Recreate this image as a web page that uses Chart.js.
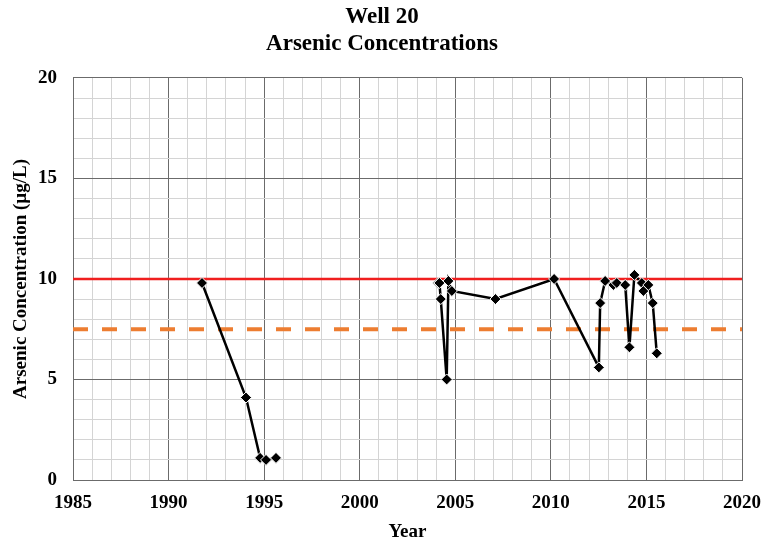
<!DOCTYPE html>
<html>
<head>
<meta charset="utf-8">
<script src="https://cdn.jsdelivr.net/npm/chart.js@4.4.1/dist/chart.umd.min.js"></script>
<style>
  html, body { margin: 0; padding: 0; background: #fff; }
  #wrap { width: 764px; height: 543px; }
</style>
</head>
<body>
<div id="wrap"><canvas id="myChart"></canvas></div>
<script>
// sample dates (decimal year) and arsenic values, null = gap in record
const sampleYears = [
  1991.75, 1994.05, 1994.79, 1995.1, 1995.62, 2000,
  2004.1, 2004.17, 2004.24, 2004.55, 2004.64, 2004.82, 2007.1, 2010.17,
  2012.51, 2012.58, 2012.84, 2013.27, 2013.45, 2013.89, 2014.11, 2014.37,
  2014.76, 2014.84, 2015.1, 2015.33, 2015.54
];
const arsenicValues = [
  9.8, 4.1, 1.1, 1.0, 1.1, null,
  9.8, 9.8, 9.0, 5.0, 9.9, 9.4, 9.0, 10.0,
  5.6, 8.8, 9.9, 9.7, 9.8, 9.7, 6.6, 10.2,
  9.8, 9.4, 9.7, 8.8, 6.3
];
const mclLimit = 10;
const actionLevel = 7.5;
const xRange = [1985, 2020];
const yRange = [0, 20];

const serif = "'Liberation Serif', 'Times New Roman', serif";

const points = sampleYears.map((x, i) => ({ x: x, y: arsenicValues[i] }));

const ctx = document.getElementById('myChart').getContext('2d');
new Chart(ctx, {
  type: 'line',
  data: {
    datasets: [
      {
        label: 'MCL',
        data: [{ x: xRange[0], y: mclLimit }, { x: xRange[1], y: mclLimit }],
        borderColor: '#f01f1f',
        borderWidth: 2.5,
        pointRadius: 0,
        order: 3
      },
      {
        label: 'Action',
        data: [{ x: xRange[0], y: actionLevel }, { x: xRange[1], y: actionLevel }],
        borderColor: '#ed7d31',
        borderWidth: 4,
        borderDash: [15, 14],
        pointRadius: 0,
        order: 2
      },
      {
        label: 'Arsenic',
        data: points,
        borderColor: '#000',
        borderWidth: 2.5,
        spanGaps: false,
        pointStyle: 'rectRot',
        pointRadius: 5.5,
        pointBackgroundColor: '#000',
        pointBorderColor: '#fff',
        pointBorderWidth: 1,
        order: 1
      }
    ]
  },
  options: {
    responsive: true,
    maintainAspectRatio: false,
    animation: false,
    layout: { padding: { left: 0, right: 0, top: 4, bottom: 0 } },
    plugins: {
      legend: { display: false },
      tooltip: { enabled: false },
      title: {
        display: true,
        text: ['Well 20', 'Arsenic Concentrations'],
        color: '#000',
        font: { family: serif, size: 23, weight: 'bold', lineHeight: 1.15 },
        padding: { top: 0, bottom: 21 }
      }
    },
    scales: {
      x: {
        type: 'linear',
        min: xRange[0],
        max: xRange[1],
        afterFit: s => { s.height = 63; s.paddingLeft = 0; s.paddingRight = 22; },
        ticks: {
          stepSize: 1,
          autoSkip: false,
          maxRotation: 0,
          padding: 12,
          color: '#000',
          font: { family: serif, size: 19, weight: 'bold' },
          callback: v => (v % 5 === 0 ? String(v) : '')
        },
        grid: {
          color: c => (c.tick && c.tick.value % 5 === 0 ? '#6b6b6b' : '#d4d4d4'),
          lineWidth: 1,
          drawTicks: false
        },
        border: { color: '#6b6b6b', width: 1 },
        title: {
          display: true,
          text: 'Year',
          color: '#000',
          font: { family: serif, size: 19, weight: 'bold' },
          padding: { top: 0, bottom: 0 }
        }
      },
      y: {
        min: yRange[0],
        max: yRange[1],
        afterFit: s => { s.width = 73; },
        ticks: {
          stepSize: 1,
          autoSkip: false,
          padding: 16,
          color: '#000',
          font: { family: serif, size: 19, weight: 'bold' },
          callback: v => (v % 5 === 0 ? String(v) : '')
        },
        grid: {
          color: c => (c.tick && c.tick.value % 5 === 0 ? '#6b6b6b' : '#d4d4d4'),
          lineWidth: 1,
          drawTicks: false
        },
        border: { color: '#6b6b6b', width: 1 },
        title: {
          display: true,
          text: 'Arsenic Concentration (µg/L)',
          color: '#000',
          font: { family: serif, size: 19, weight: 'bold' },
          padding: { top: 10, bottom: 0 }
        }
      }
    }
  }
});
</script>
</body>
</html>
